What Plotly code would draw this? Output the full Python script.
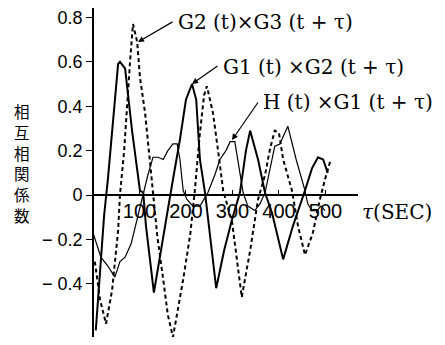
import plotly.graph_objects as go

# --- data ---
tau_g23 = [4, 15, 28, 41, 54, 58, 67, 73, 80, 86, 95, 101, 112, 123, 129, 138, 151, 161, 172,
           194, 209, 219, 230, 239, 245, 258, 269, 280, 299, 320, 338, 355, 370, 381, 391, 400,
           409, 428, 441, 456, 473, 488, 499, 510]
val_g23 = [-0.30, -0.47, -0.58, -0.43, -0.16, 0.00, 0.20, 0.40, 0.61, 0.77, 0.69, 0.53, 0.37,
           0.14, 0.00, -0.18, -0.38, -0.54, -0.64, -0.38, -0.18, 0.02, 0.28, 0.45, 0.49, 0.37,
           0.20, 0.02, -0.12, -0.46, -0.25, -0.02, 0.09, 0.21, 0.29, 0.28, 0.16, 0.02, -0.14,
           -0.27, -0.17, -0.02, 0.07, 0.15]

tau_g12 = [6, 15, 24, 32, 43, 54, 58, 69, 84, 101, 108, 114, 131, 144, 159, 172, 187, 200, 213,
           222, 230, 241, 252, 265, 282, 299, 316, 329, 338, 355, 370, 385, 409, 430, 456, 471,
           484, 495, 505]
val_g12 = [-0.61, -0.36, -0.09, 0.07, 0.34, 0.59, 0.60, 0.57, 0.29, 0.02, 0.01, -0.14, -0.44,
           -0.27, -0.09, 0.07, 0.25, 0.43, 0.50, 0.43, 0.16, 0.01, -0.20, -0.42, -0.25, -0.11,
           0.01, 0.20, 0.29, 0.16, 0.01, -0.08, -0.29, -0.14, 0.02, 0.12, 0.17, 0.16, 0.10]

tau_hg1 = [0, 17, 32, 47, 58, 69, 82, 92, 101, 108, 118, 125, 129, 140, 151, 161, 172, 181, 187,
           194, 202, 215, 230, 247, 262, 273, 286, 295, 305, 323, 333, 348, 359, 370, 381, 391,
           402, 419, 437, 456, 462, 471, 482, 490, 499]
val_hg1 = [-0.17, -0.28, -0.32, -0.37, -0.30, -0.28, -0.22, -0.13, -0.05, 0.01, 0.09, 0.14,
           0.17, 0.17, 0.16, 0.20, 0.23, 0.23, 0.16, 0.02, -0.02, -0.05, -0.05, 0.01, 0.09, 0.16,
           0.20, 0.24, 0.24, 0.01, -0.05, -0.07, -0.04, 0.01, 0.12, 0.22, 0.23, 0.31, 0.16, 0.02,
           -0.04, -0.07, -0.07, -0.05, -0.07]

x_ticks = [100, 200, 300, 400, 500]
x_ticktext = ["100", "200", "300", "400", "500"]
y_ticks = [0.8, 0.6, 0.4, 0.2, 0, -0.2, -0.4]
y_ticktext = ["0.8", "0.6", "0.4", "0.2", "0", "− 0.2", "− 0.4"]

series_names = ["G2 (t)×G3 (t + τ)", "G1 (t) ×G2 (t + τ)", "H (t) ×G1 (t + τ)"]
ylabel_chars = list("相互相関係数")
xlabel = "<i>τ</i>(SEC)"

# --- layout geometry (page has an 8px body margin) ---
OFF = 8
W, H = 445 - OFF, 345 - OFF
ML, MR, MT, MB = 93 - OFF, 87, 8 - OFF, 8
XR = [0, 570]
YR = [-0.6396, 0.8423]
zero_pos = (0 - YR[0]) / (YR[1] - YR[0])

def px(xpix):
    return (xpix - OFF - ML) / (W - ML - MR)

def py(ypix):
    return (H - MB - (ypix - OFF)) / (H - MT - MB)

fig = go.Figure()
fig.add_trace(go.Scatter(x=tau_g23, y=val_g23, mode="lines", name=series_names[0],
                         line=dict(color="black", width=2, dash="4px,3px")))
fig.add_trace(go.Scatter(x=tau_g12, y=val_g12, mode="lines", name=series_names[1],
                         line=dict(color="black", width=2)))
fig.add_trace(go.Scatter(x=tau_hg1, y=val_hg1, mode="lines", name=series_names[2],
                         line=dict(color="black", width=1.2)))

serif = "DejaVu Serif"
ann = []
label_pos = [(176, 22), (221, 67), (261, 102)]
arrows = [((174, 21), (138, 42)), ((219, 65), (192, 84)), ((259, 101), (232, 140))]
for name, (lx, ly), ((tx, ty), (hx, hy)) in zip(series_names, label_pos, arrows):
    ann.append(dict(text=name, x=px(lx), y=py(ly), xref="paper", yref="paper",
                    xanchor="left", yanchor="middle", showarrow=False,
                    font=dict(family=serif, size=20, color="black")))
    ann.append(dict(text="", x=px(hx), y=py(hy), xref="paper", yref="paper",
                    ax=tx - hx, ay=ty - hy, showarrow=True, arrowhead=2,
                    arrowsize=1, arrowwidth=1.2, arrowcolor="black"))
ann.append(dict(text=xlabel, x=px(360), y=py(212), xref="paper", yref="paper",
                xanchor="left", yanchor="middle", showarrow=False,
                font=dict(family=serif, size=20, color="black")))
for i, ch in enumerate(ylabel_chars):
    ann.append(dict(text=ch, x=px(22), y=py(111 + 20.8 * i), xref="paper", yref="paper",
                    xanchor="center", yanchor="middle", showarrow=False, borderpad=0,
                    font=dict(family="Noto Sans CJK JP", size=15.5, color="black")))

fig.update_layout(
    width=W, height=H,
    margin=dict(l=ML, r=MR, t=MT, b=MB, autoexpand=False),
    paper_bgcolor="white", plot_bgcolor="white",
    showlegend=False,
    annotations=ann,
    xaxis=dict(range=XR, anchor="free", position=zero_pos, showline=True, automargin=False,
               linecolor="black", linewidth=1.6, showgrid=False, zeroline=False,
               tickvals=x_ticks, ticktext=x_ticktext, ticks="inside", ticklen=4,
               tickwidth=1.2, tickcolor="black", ticklabelstandoff=-2,
               ticklabeloverflow="allow",
               tickfont=dict(family="Liberation Sans", size=20, color="black")),
    yaxis=dict(range=YR, anchor="free", position=0, showline=True, automargin=False,
               linecolor="black", linewidth=1.8, showgrid=False, zeroline=False,
               tickvals=y_ticks, ticktext=y_ticktext, ticks="outside", ticklen=6,
               tickwidth=1.2, tickcolor="black", ticklabeloverflow="allow",
               tickfont=dict(family="Liberation Sans", size=18, color="black")),
)

fig.write_html("out.html")
